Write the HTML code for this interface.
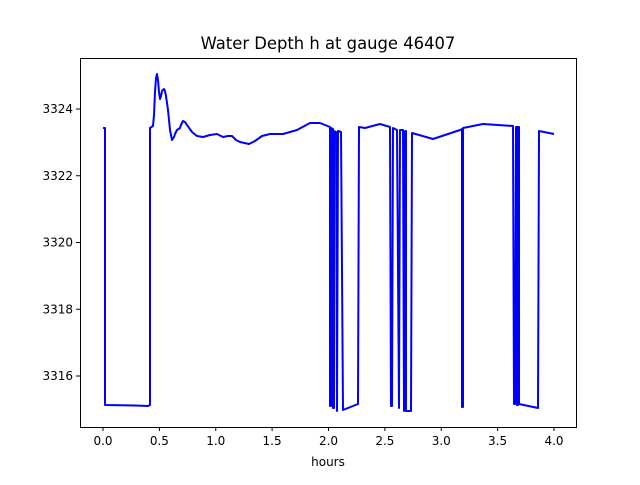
<!DOCTYPE html>
<html><head><style>body{margin:0;background:#fff}</style></head><body>
<svg width="640" height="480" xmlns="http://www.w3.org/2000/svg" font-family="DejaVu Sans, Liberation Sans, sans-serif">
<rect width="640" height="480" fill="#fff"/>
<text x="328" y="49" font-size="16.4" text-anchor="middle">Water Depth h at gauge 46407</text>
<path d="M103,128 L105,128 L105,405 L135,405.5 L148,406 L150,405 L150,128 L153,126 L154,115 L155,92 L156,78 L157,74 L158,80 L159,92 L160,99 L161,96 L162,91 L164,89 L165,91 L166,96 L168,110 L170,130 L172,140 L174,137 L175,134 L177,130 L180,128 L181,125 L183,121 L185,122 L187,125 L192,132 L197,136 L203,137 L210,135 L217,134 L223,137 L228,136 L232,136 L236,140 L240,142 L249,144 L255,141 L262,136 L270,134 L283,134 L297,130 L310,123 L320,123 L330,127 L330,406 L331,406 L331,128 L333,129 L333,408 L334,408 L334,131 L336,132 L337,411 L338,131 L341,132 L343,410 L358,404 L359,127 L365,128 L380,124 L390,127 L391,406 L392,406 L393,128 L397,130 L399,408 L400,130 L403,130 L404,411 L405,131 L406,131 L406,411 L411,411 L412,133 L433,139 L460,130 L462,129 L462,407 L463,407 L463,128 L483,124 L513,126 L514,404 L515,404 L516,127 L517,127 L517,405 L518,405 L518,127 L519,127 L519,404 L538,408 L539,131 L554,134" fill="none" stroke="#0000ff" stroke-width="2" stroke-linejoin="round"/>
<rect x="80.5" y="58.5" width="496" height="369" fill="none" stroke="#000" stroke-width="1"/>
<g stroke="#000" stroke-width="1">
<line x1="103" y1="427" x2="103" y2="431"/><line x1="159.4" y1="427" x2="159.4" y2="431"/><line x1="215.75" y1="427" x2="215.75" y2="431"/><line x1="272.1" y1="427" x2="272.1" y2="431"/><line x1="328.5" y1="427" x2="328.5" y2="431"/><line x1="384.9" y1="427" x2="384.9" y2="431"/><line x1="441.25" y1="427" x2="441.25" y2="431"/><line x1="497.6" y1="427" x2="497.6" y2="431"/><line x1="554" y1="427" x2="554" y2="431"/>
<line x1="76" y1="376" x2="80" y2="376"/><line x1="76" y1="309.25" x2="80" y2="309.25"/><line x1="76" y1="242.5" x2="80" y2="242.5"/><line x1="76" y1="175.75" x2="80" y2="175.75"/><line x1="76" y1="109" x2="80" y2="109"/>
</g>
<g font-size="12" text-anchor="middle">
<text x="103" y="445">0.0</text><text x="159.4" y="445">0.5</text><text x="215.75" y="445">1.0</text><text x="272.1" y="445">1.5</text><text x="328.5" y="445">2.0</text><text x="384.9" y="445">2.5</text><text x="441.25" y="445">3.0</text><text x="497.6" y="445">3.5</text><text x="554" y="445">4.0</text>
<text x="328" y="466">hours</text>
</g>
<g font-size="12" text-anchor="end">
<text x="73" y="380">3316</text><text x="73" y="313.5">3318</text><text x="73" y="246.5">3320</text><text x="73" y="180">3322</text><text x="73" y="113">3324</text>
</g>
</svg>
</body></html>
